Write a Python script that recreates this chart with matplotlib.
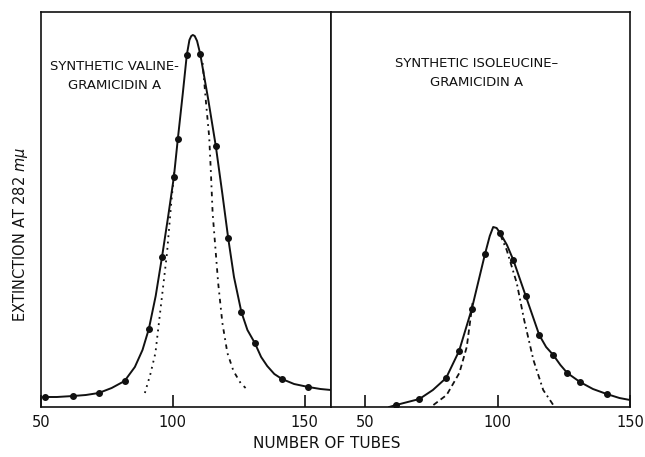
import matplotlib.pyplot as plt

# --- valine-gramicidin A (left panel) ---
val_curve_x = [50.9, 56, 62.2, 67, 71.9, 76.8, 81.7, 85.6, 88.5, 90.9, 93.5, 95.9, 98.2,
               100.4, 101.9, 103.8, 105.3, 106.3, 107.0, 107.6, 108.3, 109.2, 110.4,
               113.4, 116.3, 118.8, 121.0, 123.2, 126.0, 128.3, 131.1, 133.5, 135.8,
               138.5, 141.4, 146, 151.4, 156, 160]
val_curve_y = [0.10, 0.10, 0.11, 0.12, 0.14, 0.19, 0.26, 0.40, 0.57, 0.78, 1.11, 1.50, 1.90,
               2.30, 2.68, 3.14, 3.52, 3.67, 3.71, 3.72, 3.71, 3.66, 3.53,
               3.08, 2.61, 2.13, 1.69, 1.30, 0.95, 0.77, 0.64, 0.50, 0.41,
               0.33, 0.28, 0.23, 0.20, 0.18, 0.17]
val_dots_x = [51.6, 62.2, 71.9, 81.7, 90.9, 95.9, 100.4, 101.9, 105.3, 110.4, 116.3, 121.0,
              126.0, 131.1, 141.4, 151.4]
val_dots_y = [0.10, 0.11, 0.14, 0.26, 0.78, 1.50, 2.30, 2.68, 3.52, 3.53, 2.61, 1.69,
              0.95, 0.64, 0.28, 0.20]
val_theo_left_x = [89.4, 91.5, 93.4, 95.6, 97.8, 99.4, 100.6]
val_theo_left_y = [0.14, 0.33, 0.54, 1.04, 1.54, 2.04, 2.37]
val_theo_right_x = [111.3, 112.6, 113.8, 114.4, 115.1, 116.0, 117.2, 118.8, 120.7, 123.0, 125.7, 127.6]
val_theo_right_y = [3.44, 3.04, 2.70, 2.37, 1.94, 1.64, 1.24, 0.84, 0.54, 0.36, 0.24, 0.19]

# --- isoleucine-gramicidin A (right panel) ---
ile_curve_x = [59.0, 61.6, 66, 70.4, 75.5, 80.5, 85.4, 90.2, 95.2, 97.0, 98.3, 99.6, 100.9,
               103.5, 105.9, 110.6, 115.7, 118.3, 121.0, 123.7, 126.3, 131.1, 136, 141.2, 146, 150]
ile_curve_y = [0.00, 0.02, 0.05, 0.08, 0.17, 0.29, 0.56, 0.98, 1.53, 1.71, 1.80, 1.79, 1.74,
               1.62, 1.47, 1.11, 0.72, 0.60, 0.52, 0.42, 0.34, 0.25, 0.18, 0.13, 0.09, 0.07]
ile_dots_x = [61.6, 70.4, 80.5, 85.4, 90.2, 95.2, 100.9, 105.9, 110.6, 115.7, 121.0, 126.3, 131.1, 141.2]
ile_dots_y = [0.02, 0.08, 0.29, 0.56, 0.98, 1.53, 1.74, 1.47, 1.11, 0.72, 0.52, 0.34, 0.25, 0.13]
ile_theo_left_x = [75.7, 80.7, 85.5, 88.3, 89.5, 90.5]
ile_theo_left_y = [0.02, 0.12, 0.34, 0.60, 0.84, 1.04]
ile_theo_right_x = [101.0, 103.4, 107.2, 110.0, 113.5, 117.2, 121.0]
ile_theo_right_y = [1.72, 1.57, 1.24, 0.87, 0.47, 0.17, 0.02]

tick_vals = [50, 100, 150]

fig = plt.figure(figsize=(6.45, 4.57), dpi=100)
ax1 = fig.add_axes([41 / 645, 50 / 457, 290 / 645, 395 / 457])
ax2 = fig.add_axes([331 / 645, 50 / 457, 299 / 645, 395 / 457])

ink = '#111111'

ax1.plot(val_curve_x, val_curve_y, color=ink, lw=1.4)
ax1.plot(val_dots_x, val_dots_y, 'o', color=ink, ms=4)
ax1.plot(val_theo_left_x, val_theo_left_y, color=ink, lw=1.3, linestyle=(0, (1, 2.5)))
ax1.plot(val_theo_right_x, val_theo_right_y, color=ink, lw=1.3, linestyle=(0, (1, 2.5, 2.5, 2.5)))
ax1.set_xlim(50.6, 160)
ax1.text(78, 3.31, 'SYNTHETIC VALINE-\nGRAMICIDIN A', ha='center', va='center',
         fontsize=9.5, linespacing=1.6, color=ink)

ax2.plot(ile_curve_x, ile_curve_y, color=ink, lw=1.4)
ax2.plot(ile_dots_x, ile_dots_y, 'o', color=ink, ms=4)
ax2.plot(ile_theo_left_x, ile_theo_left_y, color=ink, lw=1.3, linestyle=(0, (3, 2)))
ax2.plot(ile_theo_right_x, ile_theo_right_y, color=ink, lw=1.3, linestyle=(0, (3, 2, 1, 2)))
ax2.set_xlim(37, 150)
ax2.text(92, 3.34, 'SYNTHETIC ISOLEUCINE\u2013\nGRAMICIDIN A', ha='center', va='center',
         fontsize=9.5, linespacing=1.6, color=ink)

for ax in (ax1, ax2):
    ax.set_ylim(0, 3.95)
    ax.set_yticks([])
    ax.set_xticks(tick_vals)
    ax.set_xticklabels([str(v) for v in tick_vals])
    ax.tick_params(axis='x', direction='in', length=9, width=1.2, pad=6,
                   labelsize=10.5, colors=ink)
    for s in ax.spines.values():
        s.set_linewidth(1.2)
        s.set_color(ink)

fig.text(327 / 645, 1 - 443 / 457, 'NUMBER OF TUBES', ha='center', va='center',
         fontsize=11, color=ink)
fig.text(21 / 645, 1 - 234 / 457, r'EXTINCTION AT 282 $m\mu$', ha='center', va='center',
         rotation=90, fontsize=10.5, color=ink)

fig.savefig('out.png', dpi=100)
